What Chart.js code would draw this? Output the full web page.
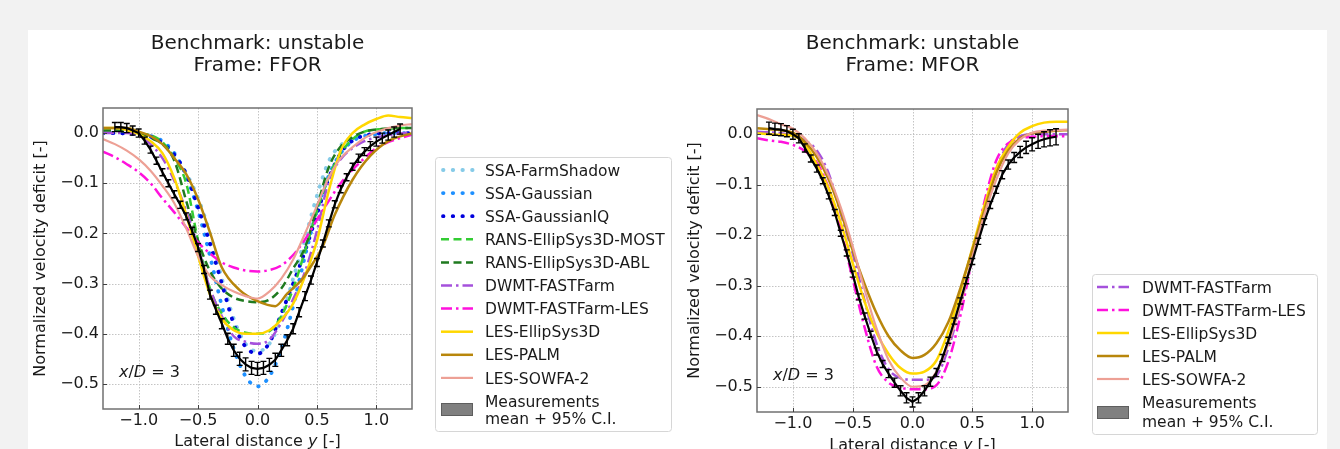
<!DOCTYPE html>
<html>
<head>
<meta charset="utf-8">
<script src="https://cdn.jsdelivr.net/npm/chart.js@4.4.1/dist/chart.umd.min.js"></script>
<style>
  html, body { margin: 0; padding: 0; width: 1340px; height: 449px; overflow: hidden; background: #f2f2f2; }
  #sheet { position: absolute; left: 28px; top: 30px; width: 1299px; height: 419px; background: #ffffff; }
  canvas { position: absolute; top: 0; }
  #ffor { left: 0; }
  #mfor { left: 640px; }
</style>
</head>
<body>
<div id="sheet"></div>
<canvas id="ffor" width="700" height="449" style="width:700px;height:449px"></canvas>
<canvas id="mfor" width="700" height="449" style="width:700px;height:449px"></canvas>
<script>
// ---- axes ----
const xTicks = [-1.0, -0.5, 0.0, 0.5, 1.0];
const xTickLabels = ['−1.0', '−0.5', '0.0', '0.5', '1.0'];
const yTicks = [-0.5, -0.4, -0.3, -0.2, -0.1, 0.0];
const yTickLabels = ['−0.5', '−0.4', '−0.3', '−0.2', '−0.1', '0.0'];

// ---- model profiles, lateral positions y/D ----
const xModel = [-1.3, -1.2, -1.1, -1.0, -0.9, -0.8, -0.7, -0.6, -0.5, -0.4, -0.3, -0.2, -0.1, 0.0,
                0.1, 0.2, 0.3, 0.4, 0.5, 0.6, 0.7, 0.8, 0.9, 1.0, 1.1, 1.2, 1.3];

// Frame: FFOR
const farmShadowF = [0.0, 0.0, -0.001, -0.003, -0.008, -0.02, -0.045, -0.08, -0.13, -0.2, -0.29, -0.37, -0.42, -0.435,
                     -0.42, -0.37, -0.29, -0.21, -0.125, -0.056, -0.024, -0.012, -0.005, -0.002, 0.0, 0.0, 0.0];
const gaussianF = [0.0, 0.0, 0.0, -0.002, -0.006, -0.016, -0.04, -0.085, -0.155, -0.245, -0.345, -0.43, -0.485, -0.505,
                   -0.485, -0.43, -0.345, -0.245, -0.155, -0.085, -0.04, -0.016, -0.006, -0.002, 0.0, 0.0, 0.0];
const gaussianIQF = [0.0, 0.0, -0.001, -0.003, -0.007, -0.02, -0.043, -0.082, -0.148, -0.22, -0.3, -0.38, -0.426, -0.44,
                     -0.418, -0.36, -0.3, -0.235, -0.162, -0.09, -0.04, -0.015, -0.005, -0.001, 0.0, 0.0, 0.0];
const mostF = [0.005, 0.005, 0.003, -0.001, -0.004, -0.018, -0.05, -0.1, -0.215, -0.31, -0.36, -0.387, -0.398, -0.4,
               -0.395, -0.365, -0.31, -0.235, -0.155, -0.088, -0.04, -0.012, 0.003, 0.007, 0.009, 0.01, 0.01];
const ablF = [0.005, 0.005, 0.003, -0.002, -0.01, -0.022, -0.055, -0.135, -0.215, -0.275, -0.31, -0.328, -0.335, -0.337,
              -0.332, -0.31, -0.27, -0.228, -0.148, -0.068, -0.027, -0.008, 0.003, 0.007, 0.009, 0.01, 0.01];
const fastFarmF = [0.0, 0.0, 0.0, -0.005, -0.022, -0.05, -0.095, -0.155, -0.228, -0.31, -0.365, -0.405, -0.416, -0.42,
                   -0.412, -0.378, -0.331, -0.276, -0.195, -0.095, -0.052, -0.03, -0.016, -0.009, -0.004, -0.001, 0.002];
const fastFarmLesF = [-0.037, -0.048, -0.062, -0.078, -0.1, -0.13, -0.158, -0.188, -0.218, -0.24, -0.258, -0.268, -0.274, -0.276,
                      -0.273, -0.264, -0.243, -0.212, -0.173, -0.135, -0.1, -0.073, -0.05, -0.03, -0.018, -0.01, -0.003];
const ellipSysF = [0.01, 0.01, 0.006, -0.002, -0.016, -0.04, -0.09, -0.163, -0.245, -0.322, -0.37, -0.393, -0.4, -0.4,
                   -0.393, -0.372, -0.34, -0.285, -0.215, -0.115, -0.035, 0.0, 0.017, 0.028, 0.035, 0.032, 0.03];
const sowfaF = [-0.012, -0.022, -0.035, -0.052, -0.075, -0.105, -0.14, -0.19, -0.245, -0.285, -0.303, -0.316, -0.325, -0.33,
                -0.316, -0.29, -0.252, -0.2, -0.145, -0.088, -0.05, -0.028, -0.01, 0.002, 0.01, 0.015, 0.018];
const palmXF = [-1.3, -1.1, -1.0, -0.9, -0.8, -0.7, -0.6, -0.5, -0.4, -0.3, -0.15, 0.0, 0.15, 0.25, 0.37, 0.47, 0.55, 0.65, 0.8, 0.95, 1.1, 1.3];
const palmF = [0.01, 0.01, 0.003, -0.006, -0.022, -0.05, -0.082, -0.132, -0.198, -0.268, -0.313, -0.335, -0.345, -0.32,
               -0.293, -0.258, -0.225, -0.163, -0.093, -0.045, -0.016, 0.0];

// Frame: MFOR
const fastFarmM = [0.005, 0.004, 0.002, -0.003, -0.012, -0.032, -0.078, -0.157, -0.236, -0.33, -0.415, -0.465, -0.483, -0.486,
                   -0.486, -0.478, -0.423, -0.34, -0.245, -0.155, -0.07, -0.02, -0.004, 0.0, 0.0, 0.0, 0.0];
const fastFarmLesM = [-0.008, -0.012, -0.015, -0.021, -0.033, -0.056, -0.107, -0.188, -0.287, -0.383, -0.46, -0.492, -0.502, -0.505,
                      -0.505, -0.497, -0.45, -0.36, -0.245, -0.135, -0.052, -0.018, -0.008, -0.005, -0.004, -0.004, -0.004];
const ellipSysM = [0.002, 0.0, -0.001, -0.003, -0.02, -0.06, -0.108, -0.175, -0.255, -0.332, -0.393, -0.435, -0.463, -0.474,
                   -0.47, -0.448, -0.39, -0.312, -0.226, -0.142, -0.068, -0.025, 0.003, 0.016, 0.023, 0.025, 0.025];
const palmM = [0.012, 0.01, 0.008, 0.003, -0.015, -0.045, -0.09, -0.153, -0.23, -0.297, -0.355, -0.4, -0.428, -0.443,
               -0.437, -0.414, -0.372, -0.305, -0.229, -0.151, -0.077, -0.032, -0.008, 0.002, 0.005, 0.007, 0.008];
const sowfaM = [0.038, 0.03, 0.02, 0.011, -0.008, -0.038, -0.083, -0.145, -0.222, -0.308, -0.385, -0.447, -0.482, -0.5,
                -0.497, -0.47, -0.415, -0.338, -0.245, -0.16, -0.09, -0.038, -0.01, 0.003, 0.007, 0.008, 0.009];

// ---- measurements: mean and 95% confidence half-width ----
const xMeas = [-1.2, -1.15, -1.1, -1.05, -1.0, -0.95, -0.9, -0.85, -0.8, -0.75, -0.7, -0.65, -0.6, -0.55, -0.5, -0.45, -0.4,
               -0.35, -0.3, -0.25, -0.2, -0.15, -0.1, -0.05, 0.0, 0.05, 0.1, 0.15, 0.2, 0.25, 0.3, 0.35, 0.4, 0.45, 0.5,
               0.55, 0.6, 0.65, 0.7, 0.75, 0.8, 0.85, 0.9, 0.95, 1.0, 1.05, 1.1, 1.15, 1.2];
const measF = [0.012, 0.012, 0.01, 0.005, 0.0, -0.015, -0.033, -0.055, -0.078, -0.1,
               -0.122, -0.143, -0.166, -0.195, -0.228, -0.272, -0.322, -0.352, -0.38, -0.41,
               -0.433, -0.45, -0.461, -0.468, -0.47, -0.468, -0.462, -0.452, -0.433, -0.413,
               -0.39, -0.357, -0.325, -0.293, -0.258, -0.22, -0.18, -0.142, -0.112, -0.088,
               -0.067, -0.05, -0.037, -0.026, -0.017, -0.01, -0.004, 0.002, 0.008];
const ciF = [0.009, 0.009, 0.009, 0.009, 0.008, 0.007, 0.007, 0.007, 0.007, 0.007,
             0.007, 0.007, 0.007, 0.007, 0.008, 0.008, 0.009, 0.009, 0.01, 0.011,
             0.012, 0.013, 0.013, 0.013, 0.013, 0.013, 0.013, 0.013, 0.012, 0.011,
             0.01, 0.009, 0.009, 0.008, 0.008, 0.007, 0.007, 0.007, 0.007, 0.007,
             0.007, 0.008, 0.008, 0.009, 0.009, 0.01, 0.01, 0.01, 0.01];
const measM = [0.012, 0.01, 0.009, 0.006, 0.0, -0.008, -0.027, -0.048, -0.068, -0.092,
               -0.122, -0.155, -0.196, -0.235, -0.277, -0.322, -0.36, -0.396, -0.43, -0.455,
               -0.474, -0.492, -0.508, -0.522, -0.53, -0.522, -0.508, -0.49, -0.472, -0.443,
               -0.408, -0.37, -0.33, -0.29, -0.252, -0.212, -0.173, -0.14, -0.11, -0.08,
               -0.06, -0.046, -0.035, -0.026, -0.02, -0.014, -0.01, -0.007, -0.005];
const ciM = [0.012, 0.012, 0.012, 0.011, 0.01, 0.009, 0.008, 0.007, 0.007, 0.006,
             0.006, 0.006, 0.006, 0.006, 0.006, 0.006, 0.006, 0.006, 0.007, 0.007,
             0.008, 0.009, 0.01, 0.01, 0.01, 0.01, 0.01, 0.009, 0.008, 0.007,
             0.006, 0.006, 0.006, 0.006, 0.006, 0.006, 0.006, 0.007, 0.007, 0.008,
             0.009, 0.01, 0.011, 0.012, 0.013, 0.014, 0.015, 0.016, 0.016];

// ---- line styles per model ----
const DOT = [0.5, 9.2], DASH = [8, 4.5], DASHDOT = [11, 4, 2.5, 4];
const styles = {
  'SSA-FarmShadow':       { color: '#86cbe8', width: 3.8, dash: DOT, cap: 'round' },
  'SSA-Gaussian':         { color: '#1e90ff', width: 3.8, dash: DOT, cap: 'round' },
  'SSA-GaussianIQ':       { color: '#0000dd', width: 3.8, dash: DOT, cap: 'round' },
  'RANS-EllipSys3D-MOST': { color: '#33cc33', width: 2.5, dash: DASH, cap: 'butt' },
  'RANS-EllipSys3D-ABL':  { color: '#1f7a1f', width: 2.5, dash: DASH, cap: 'butt' },
  'DWMT-FASTFarm':        { color: '#a551dc', width: 2.5, dash: DASHDOT, cap: 'butt' },
  'DWMT-FASTFarm-LES':    { color: '#ff11dd', width: 2.5, dash: DASHDOT, cap: 'butt' },
  'LES-EllipSys3D':       { color: '#ffd700', width: 2.5, dash: [], cap: 'butt' },
  'LES-PALM':             { color: '#b8860b', width: 2.5, dash: [], cap: 'butt' },
  'LES-SOWFA-2':          { color: '#eda095', width: 2.2, dash: [], cap: 'butt' }
};

const FAMILY = "'DejaVu Sans', sans-serif";
const TEXT = '#1a1a1a';
const font = (size, italic) => (italic ? 'italic ' : '') + size + 'px ' + FAMILY;

function modelSet(label, xs, ys, order) {
  const st = styles[label];
  return {
    label, order,
    data: xs.map((x, i) => ({ x, y: ys[i] })),
    borderColor: st.color, borderWidth: st.width, borderDash: st.dash,
    borderCapStyle: st.cap, pointRadius: 0, fill: false,
    cubicInterpolationMode: 'monotone'
  };
}
function measSet(xs, ys) {
  return {
    label: 'Measurements', order: 0,
    data: xs.map((x, i) => ({ x, y: ys[i] })),
    borderColor: '#000000', borderWidth: 2.2, pointRadius: 0, fill: false, tension: 0
  };
}

function drawRuns(ctx, runs, x, y, size, align) {
  const widths = runs.map(r => { ctx.font = font(size, r[1]); return ctx.measureText(r[0]).width; });
  const total = widths.reduce((a, b) => a + b, 0);
  let cx = align === 'center' ? x - total / 2 : x;
  ctx.textAlign = 'left';
  runs.forEach((r, i) => { ctx.font = font(size, r[1]); ctx.fillText(r[0], cx, y); cx += widths[i]; });
}

// Grid, frame, error bars, titles and the boxed legend of one panel
function panelPlugin(p) {
  return {
    id: 'panelDecor',
    beforeDatasetsDraw(chart) {
      const { ctx, chartArea: a, scales: { x, y } } = chart;
      ctx.save();
      ctx.strokeStyle = '#bdbdbd';
      ctx.lineWidth = 0.9;
      ctx.setLineDash([1.5, 1.5]);
      xTicks.forEach(v => {
        const px = Math.round(x.getPixelForValue(v)) + 0.5;
        ctx.beginPath(); ctx.moveTo(px, a.top); ctx.lineTo(px, a.bottom); ctx.stroke();
      });
      yTicks.forEach(v => {
        const py = Math.round(y.getPixelForValue(v)) + 0.5;
        ctx.beginPath(); ctx.moveTo(a.left, py); ctx.lineTo(a.right, py); ctx.stroke();
      });
      ctx.restore();
    },
    afterDatasetsDraw(chart) {
      const { ctx, chartArea: a, scales: { x, y } } = chart;
      ctx.save();
      // confidence intervals of the measurements
      ctx.strokeStyle = '#000000';
      ctx.lineWidth = 1.4;
      p.measX.forEach((mx, i) => {
        const px = x.getPixelForValue(mx);
        const lo = y.getPixelForValue(p.measY[i] - p.ci[i]);
        const hi = y.getPixelForValue(p.measY[i] + p.ci[i]);
        ctx.beginPath();
        ctx.moveTo(px, lo); ctx.lineTo(px, hi);
        ctx.moveTo(px - 3, lo); ctx.lineTo(px + 3, lo);
        ctx.moveTo(px - 3, hi); ctx.lineTo(px + 3, hi);
        ctx.stroke();
      });
      // axes frame with inward ticks
      ctx.strokeStyle = '#707070';
      ctx.lineWidth = 1.5;
      ctx.strokeRect(a.left, a.top, a.right - a.left, a.bottom - a.top);
      ctx.lineWidth = 1;
      ctx.strokeStyle = '#404040';
      ctx.beginPath();
      xTicks.forEach(v => {
        const px = Math.round(x.getPixelForValue(v)) + 0.5;
        ctx.moveTo(px, a.bottom); ctx.lineTo(px, a.bottom - 4);
      });
      yTicks.forEach(v => {
        const py = Math.round(y.getPixelForValue(v)) + 0.5;
        ctx.moveTo(a.left, py); ctx.lineTo(a.left + 4, py);
      });
      ctx.stroke();
      ctx.restore();
    },
    afterDraw(chart) {
      const { ctx, chartArea: a } = chart;
      const cx = (a.left + a.right) / 2;
      ctx.save();
      ctx.fillStyle = TEXT;
      ctx.textBaseline = 'alphabetic';
      // title
      ctx.textAlign = 'center';
      ctx.font = font(20, false);
      ctx.fillText(p.title[0], cx, 49);
      ctx.fillText(p.title[1], cx, 71);
      // axis titles
      drawRuns(ctx, [['Lateral distance ', false], ['y', true], [' [-]', false]], cx, p.xTitleY, 16, 'center');
      ctx.save();
      ctx.translate(p.yTitleX, (a.top + a.bottom) / 2);
      ctx.rotate(-Math.PI / 2);
      ctx.textAlign = 'center';
      ctx.font = font(16, false);
      ctx.fillText('Normalized velocity deficit [-]', 0, 0);
      ctx.restore();
      // downstream position
      drawRuns(ctx, [['x', true], ['/', false], ['D', true], [' = 3', false]], a.left + 16, p.noteY, 16, 'left');

      // legend
      const L = p.legend;
      ctx.fillStyle = 'rgba(255,255,255,0.9)';
      ctx.strokeStyle = '#d6d6d6';
      ctx.lineWidth = 1;
      ctx.beginPath();
      ctx.roundRect(L.x + 0.5, L.y + 0.5, L.w, L.h, 3);
      ctx.fill(); ctx.stroke();
      ctx.font = font(15.5, false);
      ctx.textAlign = 'left';
      L.labels.forEach((lab, i) => {
        const cy = L.firstY + i * L.step;
        const st = styles[lab];
        ctx.strokeStyle = st.color;
        ctx.lineWidth = st.width;
        ctx.setLineDash(st.dash);
        ctx.lineCap = st.cap;
        const x0 = st.cap === 'round' ? L.hx0 + 2 : L.hx0;
        ctx.beginPath(); ctx.moveTo(x0, cy); ctx.lineTo(L.hx1, cy); ctx.stroke();
        ctx.setLineDash([]);
        ctx.lineCap = 'butt';
        ctx.fillStyle = TEXT;
        ctx.fillText(lab, L.tx, cy + 5.6);
      });
      ctx.fillStyle = '#808080';
      ctx.strokeStyle = '#5e5e5e';
      ctx.lineWidth = 1;
      ctx.fillRect(L.hx0, L.patchY, L.hx1 - L.hx0, 13);
      ctx.strokeRect(L.hx0 + 0.5, L.patchY + 0.5, L.hx1 - L.hx0 - 1, 12);
      ctx.fillStyle = TEXT;
      ctx.fillText('Measurements', L.tx, L.measY[0] + 5.6);
      ctx.fillText('mean + 95% C.I.', L.tx, L.measY[1] + 5.6);
      ctx.restore();
    }
  };
}

function makePanel(id, datasets, pad, deco) {
  const tickFont = { family: FAMILY, size: 16 };
  return new Chart(document.getElementById(id), {
    type: 'line',
    data: { datasets },
    options: {
      responsive: false,
      animation: false,
      devicePixelRatio: 1,
      events: [],
      layout: { padding: pad },
      plugins: { legend: { display: false }, title: { display: false }, tooltip: { enabled: false } },
      scales: {
        x: {
          type: 'linear', min: -1.3, max: 1.3,
          afterBuildTicks: s => { s.ticks = xTicks.map(v => ({ value: v })); },
          afterFit: s => { s.height = 30; },
          grid: { display: false, drawTicks: false },
          border: { display: false },
          ticks: { callback: (v, i) => xTickLabels[i], color: TEXT, font: tickFont, padding: 2, maxRotation: 0, autoSkip: false }
        },
        y: {
          type: 'linear', min: -0.55, max: 0.05,
          afterBuildTicks: s => { s.ticks = yTicks.map(v => ({ value: v })); },
          afterFit: s => { s.width = 60; },
          grid: { display: false, drawTicks: false },
          border: { display: false },
          ticks: { callback: (v, i) => yTickLabels[i], color: TEXT, font: tickFont, padding: 4, autoSkip: false }
        }
      }
    },
    plugins: [panelPlugin(deco)]
  });
}

// ---- FFOR panel ----
const fforLabels = ['SSA-FarmShadow', 'SSA-Gaussian', 'SSA-GaussianIQ', 'RANS-EllipSys3D-MOST', 'RANS-EllipSys3D-ABL',
                    'DWMT-FASTFarm', 'DWMT-FASTFarm-LES', 'LES-EllipSys3D', 'LES-PALM', 'LES-SOWFA-2'];
const fforSets = [
  modelSet('SSA-FarmShadow', xModel, farmShadowF, 10),
  modelSet('SSA-Gaussian', xModel, gaussianF, 9),
  modelSet('SSA-GaussianIQ', xModel, gaussianIQF, 8),
  modelSet('RANS-EllipSys3D-MOST', xModel, mostF, 7),
  modelSet('RANS-EllipSys3D-ABL', xModel, ablF, 6),
  modelSet('DWMT-FASTFarm', xModel, fastFarmF, 5),
  modelSet('DWMT-FASTFarm-LES', xModel, fastFarmLesF, 4),
  modelSet('LES-EllipSys3D', xModel, ellipSysF, 3),
  modelSet('LES-PALM', palmXF, palmF, 2),
  modelSet('LES-SOWFA-2', xModel, sowfaF, 1),
  measSet(xMeas, measF)
];
makePanel('ffor', fforSets, { left: 43, right: 288, top: 108, bottom: 10 }, {
  title: ['Benchmark: unstable', 'Frame: FFOR'],
  xTitleY: 446, yTitleX: 45, noteY: 377,
  measX: xMeas, measY: measF, ci: ciF,
  legend: { x: 435, y: 157, w: 236, h: 274, hx0: 441, hx1: 473, tx: 485,
            firstY: 170, step: 23.1, labels: fforLabels, measY: [401, 418], patchY: 403 }
});

// ---- MFOR panel ----
const mforLabels = ['DWMT-FASTFarm', 'DWMT-FASTFarm-LES', 'LES-EllipSys3D', 'LES-PALM', 'LES-SOWFA-2'];
const mforSets = [
  modelSet('DWMT-FASTFarm', xModel, fastFarmM, 5),
  modelSet('DWMT-FASTFarm-LES', xModel, fastFarmLesM, 4),
  modelSet('LES-EllipSys3D', xModel, ellipSysM, 3),
  modelSet('LES-PALM', xModel, palmM, 2),
  modelSet('LES-SOWFA-2', xModel, sowfaM, 1),
  measSet(xMeas, measM)
];
makePanel('mfor', mforSets, { left: 57, right: 272, top: 109, bottom: 7 }, {
  title: ['Benchmark: unstable', 'Frame: MFOR'],
  xTitleY: 449.5, yTitleX: 59, noteY: 380,
  measX: xMeas, measY: measM, ci: ciM,
  legend: { x: 452, y: 274, w: 225, h: 160, hx0: 457, hx1: 489, tx: 502,
            firstY: 287, step: 23, labels: mforLabels, measY: [402.5, 421], patchY: 406 }
});
</script>
</body>
</html>
